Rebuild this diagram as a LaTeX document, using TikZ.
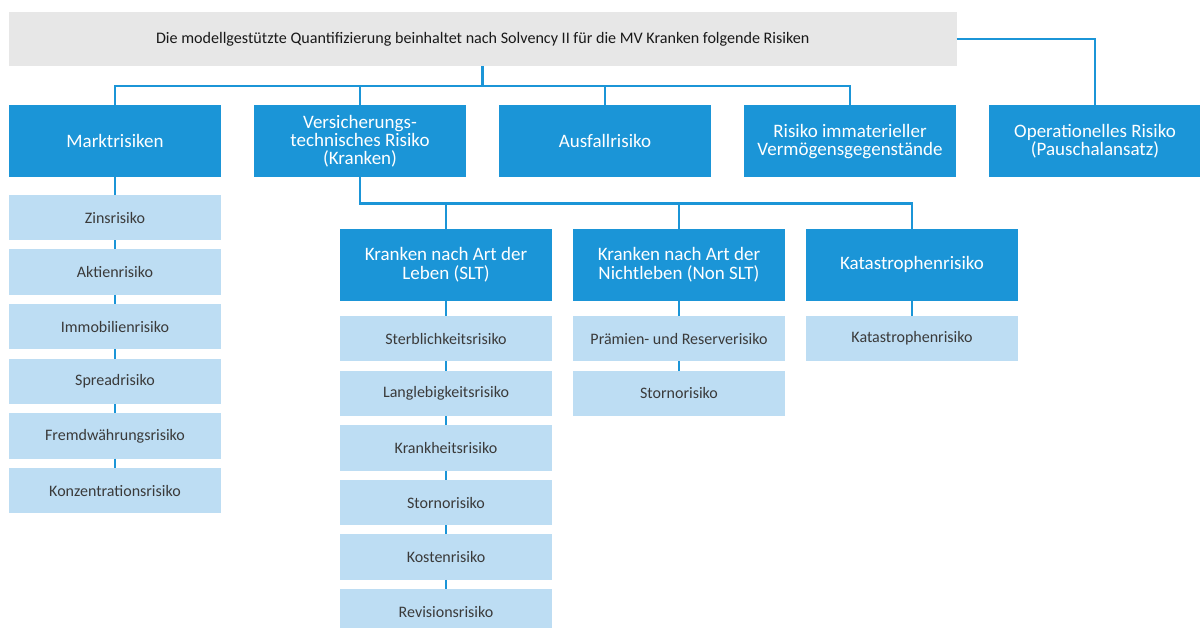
\documentclass[tikz,border=0pt]{standalone}
\usepackage{fontspec}
\setmainfont{Carlito}
\usetikzlibrary{positioning}
\definecolor{riskblue}{HTML}{1B95D7}
\definecolor{sublight}{HTML}{BDDDF3}
\definecolor{headgray}{HTML}{E7E7E7}
\definecolor{subtext}{HTML}{3A3A3A}
\tikzset{
  headbox/.style={fill=headgray, text=black!90, minimum width=473.75pt, minimum height=27pt,
    inner sep=0pt, outer sep=0pt, font=\fontsize{8.05}{9}\selectfont},
  mainbox/.style={fill=riskblue, text=white, minimum width=106pt, minimum height=36pt,
    inner sep=0pt, outer sep=0pt, align=center, font=\fontsize{9.5}{9.1}\selectfont},
  subbox/.style={fill=sublight, text=subtext, minimum width=106pt, minimum height=22.75pt,
    inner sep=0pt, outer sep=0pt, font=\fontsize{8}{9}\selectfont},
  link/.style={draw=riskblue, line width=1.4pt}
}

\begin{document}
\begin{tikzpicture}[x=0.5pt,y=-0.5pt]
\useasboundingbox (0,0) rectangle (1200,627);

\node (head) [headbox] at (482.75,39) {Die modellgestützte Quantifizierung beinhaltet nach Solvency II für die MV Kranken folgende Risiken};

% first row, 16.5pt apart
\node (markt) [mainbox] at (115,141.25) {Marktrisiken};
\node (vt) [mainbox, right=16.5pt of markt] {Versicherungs-\\technisches Risiko\\(Kranken)};
\node (ausfall) [mainbox, right=16.5pt of vt] {Ausfallrisiko};
\node (immat) [mainbox, right=16.5pt of ausfall] {Risiko immaterieller\\Vermögensgegenstände};
\node (ops) [mainbox, right=16.5pt of immat] {Operationelles Risiko\\(Pauschalansatz)};

% second row, 10.5pt apart
\node (slt) [mainbox] at (446,264.75) {Kranken nach Art der\\Leben (SLT)};
\node (nonslt) [mainbox, right=10.5pt of slt] {Kranken nach Art der\\Nichtleben (Non SLT)};
\node (kat) [mainbox, right=10.5pt of nonslt] {Katastrophenrisiko};

% Marktrisiken
\node (zins) [subbox, below=8.75pt of markt] {Zinsrisiko};
\node (aktien) [subbox, below=4.55pt of zins] {Aktienrisiko};
\node (immo) [subbox, below=4.55pt of aktien] {Immobilienrisiko};
\node (spread) [subbox, below=4.55pt of immo] {Spreadrisiko};
\node (fremd) [subbox, below=4.55pt of spread] {Fremdwährungsrisiko};
\node (konz) [subbox, below=4.55pt of fremd] {Konzentrationsrisiko};

% SLT
\node (sterb) [subbox, below=7.6pt of slt] {Sterblichkeitsrisiko};
\node (lang) [subbox, below=4.55pt of sterb] {Langlebigkeitsrisiko};
\node (krank) [subbox, below=4.55pt of lang] {Krankheitsrisiko};
\node (storno) [subbox, below=4.55pt of krank] {Stornorisiko};
\node (kosten) [subbox, below=4.55pt of storno] {Kostenrisiko};
\node (rev) [subbox, below=4.55pt of kosten] {Revisionsrisiko};

% Non SLT and Katastrophe
\node (praem) [subbox, below=7.6pt of nonslt] {Prämien- und Reserverisiko};
\node (nsstorno) [subbox, below=4.55pt of praem] {Stornorisiko};
\node (katsub) [subbox, below=7.6pt of kat] {Katastrophenrisiko};

% connectors
\draw[link] (head.south) -- ++(0,20) -| (markt.north);
\draw[link] (head.south) -- ++(0,20) -| (vt.north);
\draw[link] (head.south) -- ++(0,20) -| (ausfall.north);
\draw[link] (head.south) -- ++(0,20) -| (immat.north);
\draw[link] (head.east) -| (ops.north);

\draw[link] (vt.south) -- ++(0,26) -| (slt.north);
\draw[link] (vt.south) -- ++(0,26) -| (nonslt.north);
\draw[link] (vt.south) -- ++(0,26) -| (kat.north);

\draw[link] (markt) -- (zins);
\draw[link] (zins) -- (aktien);
\draw[link] (aktien) -- (immo);
\draw[link] (immo) -- (spread);
\draw[link] (spread) -- (fremd);
\draw[link] (fremd) -- (konz);

\draw[link] (slt) -- (sterb);
\draw[link] (sterb) -- (lang);
\draw[link] (lang) -- (krank);
\draw[link] (krank) -- (storno);
\draw[link] (storno) -- (kosten);
\draw[link] (kosten) -- (rev);

\draw[link] (nonslt) -- (praem);
\draw[link] (praem) -- (nsstorno);
\draw[link] (kat) -- (katsub);

\end{tikzpicture}
\end{document}
